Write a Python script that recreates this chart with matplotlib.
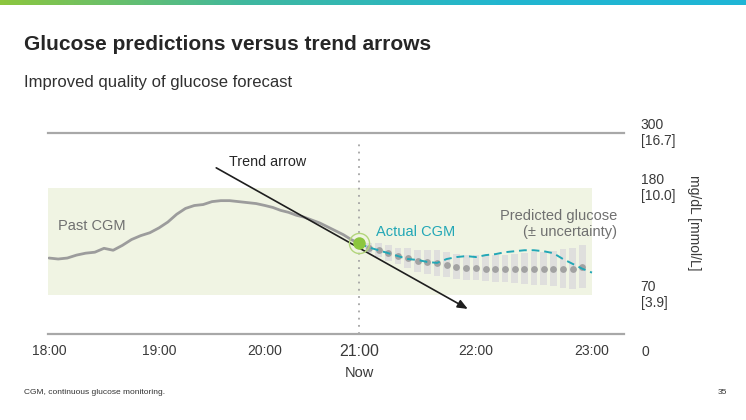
import numpy as np
import matplotlib
matplotlib.use('Agg')
import matplotlib.pyplot as plt
from matplotlib.colors import LinearSegmentedColormap

plt.rcParams['font.family'] = ['Liberation Sans', 'DejaVu Sans']

# ---------------- data (mg/dL) ----------------
past_minutes = np.arange(0, 181, 5)          # 18:00 -> 21:00, CGM every 5 min
past_glucose = [108, 107, 108, 111, 113, 114, 118, 116, 121, 127, 131, 134, 139,
                145, 153, 159, 162, 163, 166, 167, 167, 166, 165, 164, 162,
                160, 157, 155, 152, 150, 147, 144, 140, 136, 132, 127, 123]

actual_minutes = np.arange(180, 301, 5)      # 21:00 -> 23:00
actual_glucose = [123, 119, 116, 113, 110, 107, 106, 104, 103, 107, 109, 110, 109,
                  111, 112, 114, 115, 116, 116, 115, 113, 107, 102, 97, 93]

pred_minutes = np.arange(185, 296, 5)        # 21:05 -> 22:55
pred_glucose = [118, 116, 113, 110, 108, 105, 104, 103, 101, 99, 98, 98,
                97, 97, 97, 97, 97, 97, 97, 97, 97, 97, 99]
pred_uncert = [5, 7, 8, 8, 10, 11, 12, 13, 13, 13, 13, 13,
               13, 14, 14, 15, 16, 17, 17, 18, 20, 21, 22]

now_hour = 21
now_glucose = 123
trend_start = (19.54, 224)   # (hour, mg/dL)
trend_end = (21.93, 45)
target_range = (70, 180)

hour_ticks = [18, 19, 20, 21, 22, 23]
hour_labels = ['18:00', '19:00', '20:00', '21:00', '22:00', '23:00']
glu_ticks = [70, 180, 300]
glu_labels = ['70\n[3.9]', '180\n[10.0]', '300\n[16.7]']

past_hours = 18 + past_minutes / 60
actual_hours = 18 + actual_minutes / 60
pred_hours = 18 + pred_minutes / 60
pred_glucose = np.array(pred_glucose)
pred_uncert = np.array(pred_uncert)

# ---------------- schematic (non-linear) axes of the slide ----------------
X_HOURS = [17, 18, 19, 20, 21, 22, 23, 24]
X_PIX = [-61, 49, 159, 265, 359, 476, 592, 708]
Y_VAL = [-100, 0, 70, 180, 300, 400]
Y_PIX = np.array([390, 334, 295, 188, 133, 87.0])


def x_fwd(h):
    return np.interp(h, X_HOURS, X_PIX)


def x_inv(p):
    return np.interp(p, X_PIX, X_HOURS)


def y_fwd(v):
    return -np.interp(v, Y_VAL, Y_PIX)


def y_inv(t):
    return np.interp(t, -Y_PIX, Y_VAL)


W, H = 746, 420
fig = plt.figure(figsize=(W / 100, H / 100), dpi=100)


def fx(px):
    return px / W


def fy(py):
    return 1 - py / H


# top gradient bar
bar_ax = fig.add_axes([0, fy(5), 1, 5 / H])
grad = LinearSegmentedColormap.from_list('bar', ['#8cc63f', '#3fb8a0', '#22b6cf', '#1fb5d6'])
bar_ax.imshow(np.linspace(0, 1, 300)[None, :], aspect='auto', cmap=grad)
bar_ax.axis('off')

ax = fig.add_axes([fx(48), fy(334), fx(624) - fx(48), (334 - 133) / H])
ax.set_facecolor('none')
ax.set_xscale('function', functions=(x_fwd, x_inv))
ax.set_yscale('function', functions=(y_fwd, y_inv))
ax.set_xlim(x_inv(48), x_inv(624))
ax.set_ylim(0, 300)

# target range band
ax.fill_between([x_inv(48), 23.0], target_range[0], target_range[1],
                color='#f0f4e3', lw=0, zorder=0)

# "now" dotted line
ax.axvline(now_hour, ymin=0, ymax=(334 - 141) / 201, color='#a5a5a5',
           lw=1.3, linestyle=(0, (1, 3)), zorder=1)

# uncertainty bars
ax.bar(pred_hours, 2 * pred_uncert, bottom=pred_glucose - pred_uncert, width=0.058,
       color='#dcdcdc', alpha=0.85, lw=0, zorder=2)

# past CGM
ax.plot(past_hours, past_glucose, color='#9c9c9c', lw=2, zorder=3,
        solid_capstyle='round', solid_joinstyle='round')

# trend arrow
ax.annotate('', xy=trend_end, xytext=trend_start,
            arrowprops=dict(arrowstyle='-|>,head_length=0.6,head_width=0.25',
                            color='#1e1e1e', lw=1.2, shrinkA=0, shrinkB=0),
            zorder=4)

# predicted dots
ax.scatter(pred_hours, pred_glucose, s=24, color='#a2a2a2', lw=0, zorder=5)

# actual CGM
ax.plot(actual_hours, actual_glucose, color='#22a7b6', lw=1.4, dashes=(4, 2.5), zorder=6)

# current value
ax.plot([now_hour], [now_glucose], 'o', ms=14.5, mfc='none', mec='#b3d67c', mew=1, zorder=7)
ax.plot([now_hour], [now_glucose], 'o', ms=9, color='#8cc63f', mew=0, zorder=8)

# axes styling
for side in ['left', 'right']:
    ax.spines[side].set_visible(False)
for side in ['top', 'bottom']:
    ax.spines[side].set_color('#a8a8a8')
    ax.spines[side].set_linewidth(1.6)

ax.set_xticks(hour_ticks)
ax.set_xticklabels(hour_labels)
ax.xaxis.set_minor_locator(matplotlib.ticker.NullLocator())
ax.tick_params(axis='x', length=0, pad=7, labelsize=10, labelcolor='#3a3a3a')
for lab in ax.get_xticklabels():
    if lab.get_text() == '21:00':
        lab.set_fontsize(11.5)

ax.yaxis.tick_right()
ax.set_yticks(glu_ticks)
ax.set_yticklabels(glu_labels, va='center', ha='left')
ax.yaxis.set_minor_locator(matplotlib.ticker.NullLocator())
ax.tick_params(axis='y', length=0, pad=12, labelsize=10, labelcolor='#3a3a3a')

# texts
fig.text(fx(641), fy(352), '0', fontsize=10, color='#3a3a3a', va='center', ha='left')
fig.text(fx(359), fy(373), 'Now', fontsize=10.5, color='#3a3a3a', va='center', ha='center')
fig.text(fx(694), fy(223), 'mg/dL [mmol/L]', fontsize=10, color='#3a3a3a',
         rotation=270, va='center', ha='center')

fig.text(fx(24), fy(44), 'Glucose predictions versus trend arrows', fontsize=15,
         fontweight='bold', color='#262626', va='center', ha='left')
fig.text(fx(24), fy(83), 'Improved quality of glucose forecast', fontsize=12,
         color='#303030', va='center', ha='left')

fig.text(fx(58), fy(226), 'Past CGM', fontsize=10.5, color='#707070', va='center')
fig.text(fx(229), fy(162), 'Trend arrow', fontsize=10.3, color='#262626', va='center')
fig.text(fx(376), fy(232), 'Actual CGM', fontsize=10.5, color='#22a7b6', va='center')
fig.text(fx(617), fy(224), 'Predicted glucose\n(± uncertainty)', fontsize=10.5,
         color='#707070', va='center', ha='right', multialignment='right', linespacing=1.2)

fig.text(fx(24), fy(392), 'CGM, continuous glucose monitoring.', fontsize=6,
         color='#333333', va='center')
fig.text(fx(718), fy(392), '35', fontsize=6, color='#333333', va='center')

fig.savefig('out.png', dpi=100)
